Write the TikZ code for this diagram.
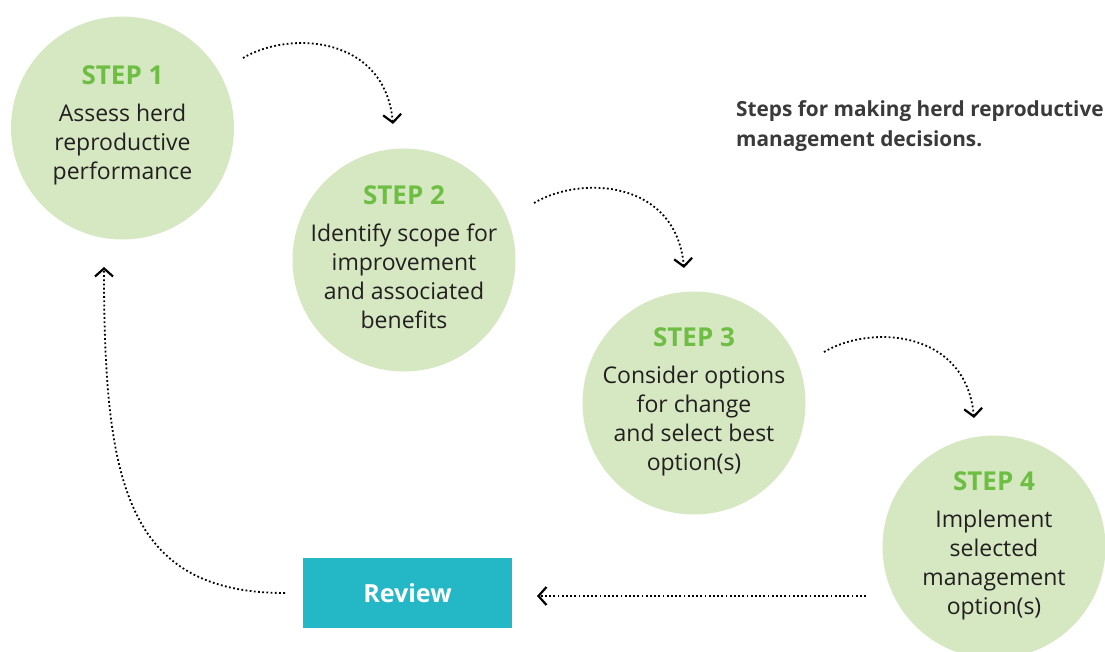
\documentclass[tikz,border=0pt]{standalone}
\usepackage{fontspec}
\setmainfont{Open Sans}
\usetikzlibrary{arrows.meta}
\definecolor{circfill}{HTML}{D5E8C2}
\definecolor{stepgreen}{HTML}{6EBE44}
\definecolor{reviewteal}{HTML}{24B8C6}
\definecolor{bodytext}{HTML}{231F20}
\definecolor{titlegray}{HTML}{3A3A3A}
\tikzset{
  stepcircle/.style={circle, fill=circfill, draw=none, minimum size=223pt, inner sep=0pt},
  steptext/.style={align=center, text=bodytext, inner sep=0pt, font=\fontsize{23}{29}\selectfont},
  flowarrow/.style={draw=black, line width=1.8pt, dash pattern=on 1.8pt off 2.4pt,
    -{Straight Barb[length=8pt,width=18pt,line width=2.2pt]}},
  reviewbox/.style={rectangle, fill=reviewteal, draw=none, minimum width=209pt, minimum height=70pt,
    inner sep=0pt, text=white, font=\fontsize{25}{30}\selectfont\bfseries},
  titletext/.style={align=left, anchor=west, text=titlegray, inner sep=0pt,
    font=\fontsize{20.8}{29.5}\selectfont\bfseries}
}
\newcommand{\stephead}[1]{{\fontsize{26}{30}\selectfont\bfseries\color{stepgreen}#1}}
\begin{document}
\begin{tikzpicture}[x=1pt,y=-1pt]
\useasboundingbox (0,0) rectangle (1105,652);
\clip (0,0) rectangle (1105,652);
\node[stepcircle] (s1) at (122.5,128) {};
\node[stepcircle] (s2) at (404,260) {};
\node[stepcircle] (s3) at (694,403) {};
\node[stepcircle] (s4) at (994,547) {};
\node[steptext] (t1) at ([yshift=3pt]s1.center) {\stephead{STEP 1}\\[8pt]Assess herd\\reproductive\\performance};
\node[steptext] (t2) at ([yshift=3pt]s2.center) {\stephead{STEP 2}\\[8pt]Identify scope for\\improvement\\and associated\\benefits};
\node[steptext] (t3) at ([yshift=1pt]s3.center) {\stephead{STEP 3}\\[8pt]Consider options\\for change\\and select best\\option(s)};
\node[steptext] (t4) at ([yshift=1pt]s4.center) {\stephead{STEP 4}\\[8pt]Implement\\selected\\management\\option(s)};
\node[reviewbox] (rv) at (407.5,593) {Review};
\node[titletext] (title) at (736,126) {Steps for making herd reproductive\\management decisions.};
% connector end points
\coordinate (a1s) at (243,58);  \coordinate (a1e) at (393,124);
\coordinate (a2s) at (534,203); \coordinate (a2e) at (684,268);
\coordinate (a3s) at (824,352); \coordinate (a3e) at (974,418);
\coordinate (a4s) at (866,596); \coordinate (a4e) at (537,596);
\coordinate (a5s) at (285,593); \coordinate (a5e) at (104,267);
\draw[flowarrow] (a1s) .. controls +(47,-28) and +(-8,-88) .. (a1e);
\draw[flowarrow] (a2s) .. controls +(47,-28) and +(-8,-88) .. (a2e);
\draw[flowarrow] (a3s) .. controls +(47,-28) and +(-8,-88) .. (a3e);
\draw[flowarrow] (a4s) -- (a4e);
\draw[flowarrow] (a5s) .. controls (125,593) and (104,480) .. (a5e);
\end{tikzpicture}
\end{document}
